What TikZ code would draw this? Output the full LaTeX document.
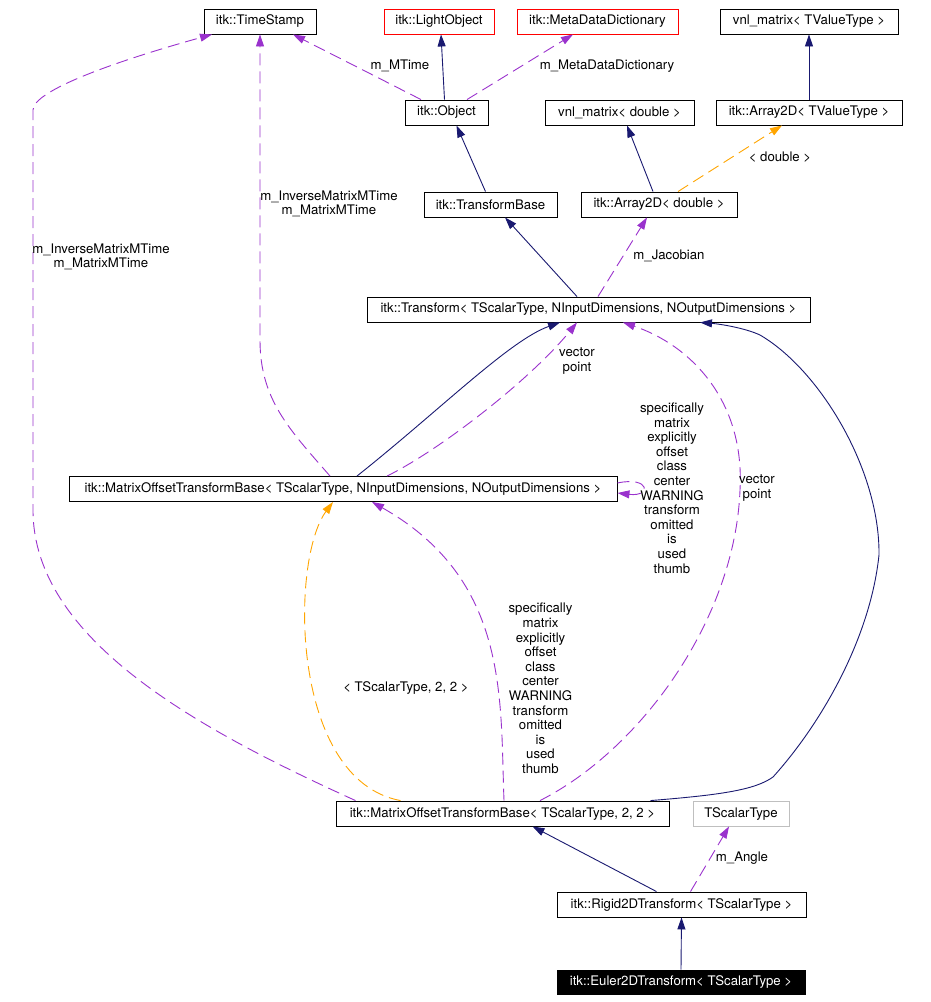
\documentclass[tikz,border=0pt]{standalone}
\usepackage{fontspec}
\setmainfont{TeX Gyre Heros}
\usetikzlibrary{arrows.meta}
\definecolor{inhblue}{RGB}{25,25,112}
\definecolor{usepurple}{RGB}{154,50,205}
\definecolor{tmplorange}{RGB}{255,165,0}
\definecolor{boxgray}{RGB}{191,191,191}
\begin{document}
\begin{tikzpicture}[x=1pt,y=-1pt,
  font=\fontsize{13.2}{14.6}\selectfont,
  box/.style={draw, rectangle, minimum height=25pt, inner sep=0pt, line width=0.9pt},
  inh/.style={draw=inhblue, line width=0.9pt, -{Triangle[length=12pt,width=8pt]}},
  use/.style={draw=usepurple, line width=0.9pt, dash pattern=on 12pt off 6pt, -{Triangle[length=12pt,width=8pt]}},
  tmpl/.style={draw=tmplorange, line width=0.9pt, dash pattern=on 12pt off 6pt, -{Triangle[length=12pt,width=8pt]}},
  lbl/.style={align=center, inner sep=0pt}]
\useasboundingbox (0,0) rectangle (930,1002);
\node (ts) [box, minimum width=112pt] at (260,21.5) {itk::TimeStamp};
\node (lo) [box, draw=red, minimum width=110pt] at (439,21.5) {itk::LightObject};
\node (mdd) [box, draw=red, minimum width=161pt] at (597.5,21.5) {itk::MetaDataDictionary};
\node (vnlT) [box, minimum width=178pt] at (809,21.5) {vnl\_matrix< TValueType >};
\node (obj) [box, minimum width=83pt] at (446.5,112.5) {itk::Object};
\node (vnlD) [box, minimum width=149pt] at (619.5,112.5) {vnl\_matrix< double >};
\node (arrT) [box, minimum width=186pt] at (809,112.5) {itk::Array2D< TValueType >};
\node (tb) [box, minimum width=133pt] at (490.5,204.5) {itk::TransformBase};
\node (arrD) [box, minimum width=156pt] at (659,204.5) {itk::Array2D< double >};
\node (tf) [box, minimum width=443pt] at (588.5,309.5) {itk::Transform< TScalarType, NInputDimensions, NOutputDimensions >};
\node (motbN) [box, minimum width=548pt] at (343,489) {itk::MatrixOffsetTransformBase< TScalarType, NInputDimensions, NOutputDimensions >};
\node (motb22) [box, minimum width=333pt] at (502.5,813.5) {itk::MatrixOffsetTransformBase< TScalarType, 2, 2 >};
\node (tst) [box, draw=boxgray, minimum width=96pt] at (741,813.5) {TScalarType};
\node (rigid) [box, minimum width=249pt] at (681.5,904.5) {itk::Rigid2DTransform< TScalarType >};
\node (euler) [box, fill=black, text=white, minimum width=248pt, minimum height=24pt] at (681,982) {itk::Euler2DTransform< TScalarType >};
\draw[inh] ([xshift=-2]obj.north) -- ([xshift=2]lo.south);
\draw[use] ([xshift=-25.5]obj.north) -- ([xshift=33]ts.south);
\draw[use] ([xshift=20.5]obj.north) -- ([xshift=-24.5]mdd.south);
\draw[inh] (arrT.north) -- (vnlT.south);
\draw[inh] ([xshift=-5]tb.north) -- ([xshift=10]obj.south);
\draw[inh] ([xshift=-6]arrD.north) -- ([xshift=7.5]vnlD.south);
\draw[tmpl] ([xshift=19]arrD.north) -- ([xshift=-27]arrT.south);
\draw[inh] ([xshift=-11.5]tf.north) -- ([xshift=14.5]tb.south);
\draw[use] ([xshift=9.5]tf.north) -- ([xshift=-12]arrD.south);
\draw[inh] ([xshift=14]motbN.north) .. controls (440,410) and (510,340) .. ([xshift=-28.5]tf.south);
\draw[use] ([xshift=44]motbN.north) .. controls (440,450) and (530,380) .. ([xshift=-11.5]tf.south);
\draw[use] ([xshift=-13]motbN.north) .. controls (290,430) and (260,400) .. (260,340) -- (ts.south);
\draw[use] ([yshift=6]motbN.east) .. controls (650,476) and (652,497) .. ([yshift=-4]motbN.east);
\draw[tmpl] ([xshift=-102]motb22.north) .. controls (290,780) and (290,560) .. ([xshift=-10]motbN.south);
\draw[use] ([xshift=1.5]motb22.north) .. controls (500,700) and (510,580) .. ([xshift=29]motbN.south);
\draw[use] ([xshift=37.5]motb22.north) .. controls (640,750) and (735,620) .. (740,490) .. controls (745,400) and (690,345) .. ([xshift=34.5]tf.south);
\draw[inh] ([xshift=148]motb22.north) .. controls (720,795) and (755,790) .. (773,777) .. controls (820,725) and (870,640) .. (879,555) .. controls (880,470) and (820,370) .. (760,335) .. controls (745,328) and (720,324) .. ([xshift=111.5]tf.south);
\draw[use] ([xshift=-147]motb22.north) .. controls (200,730) and (33,640) .. (33,510) -- (33,110) .. controls (33,90) and (120,60) .. ([xshift=-48]ts.south);
\draw[inh] ([xshift=-25]rigid.north) -- ([xshift=30]motb22.south);
\draw[use] ([xshift=9]rigid.north) -- ([xshift=-12]tst.south);
\draw[inh] (euler.north) -- (rigid.south);
\node (lmtime) [lbl] at (400,66) {m\_MTime};
\node (lmdd) [lbl] at (607,66) {m\_MetaDataDictionary};
\node (ldouble) [lbl] at (780,157) {< double >};
\node (ljac) [lbl] at (669,256) {m\_Jacobian};
\node (lmtimeA) [lbl] at (329,204) {m\_InverseMatrixMTime\\m\_MatrixMTime};
\node (lmtimeB) [lbl] at (101,257) {m\_InverseMatrixMTime\\m\_MatrixMTime};
\node (lvecA) [lbl] at (577,361) {vector\\point};
\node (lvecB) [lbl] at (757,488) {vector\\point};
\node (lspecA) [lbl] at (672,488) {specifically\\matrix\\explicitly\\offset\\class\\center\\WARNING\\transform\\omitted\\is\\used\\thumb};
\node (lspecB) [lbl] at (540.5,688.5) {specifically\\matrix\\explicitly\\offset\\class\\center\\WARNING\\transform\\omitted\\is\\used\\thumb};
\node (ltmpl) [lbl] at (406,688) {< TScalarType, 2, 2 >};
\node (langle) [lbl] at (742,858) {m\_Angle};
\end{tikzpicture}
\end{document}
